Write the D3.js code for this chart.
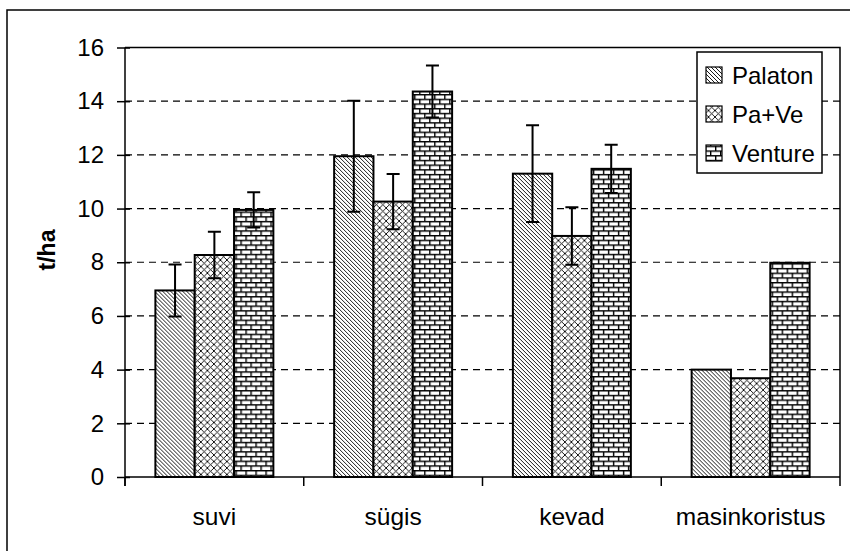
<!DOCTYPE html>
<html>
<head>
<meta charset="utf-8">
<script src="https://cdn.jsdelivr.net/npm/d3@7"></script>
<style>
  html, body { margin: 0; padding: 0; background: #fff; }
  svg { display: block; font-family: "Liberation Sans", Arial, sans-serif; }
</style>
</head>
<body>
<svg id="chart" width="850" height="551"></svg>
<script>
// ---- data ----
const categories = ["suvi", "sügis", "kevad", "masinkoristus"];
const seriesNames = ["Palaton", "Pa+Ve", "Venture"];
const palaton = [6.95, 11.95, 11.3, 4.0];
const paVe = [8.27, 10.26, 8.98, 3.68];
const venture = [9.95, 14.36, 11.48, 7.98];
const palatonErr = [0.97, 2.07, 1.8, null];
const paVeErr = [0.87, 1.03, 1.07, null];
const ventureErr = [0.66, 0.97, 0.9, null];
const yTicks = [0, 2, 4, 6, 8, 10, 12, 14, 16];

const seriesValues = [palaton, paVe, venture];
const seriesErrors = [palatonErr, paVeErr, ventureErr];
const patternIds = ["pPalaton", "pPaVe", "pVenture"];

(function () {
const svg = d3.select("#chart");
const FONT = 24;

// ---- patterns ----
const defs = svg.append("defs");
function makePattern(id, w, h, d, sw) {
  const p = defs.append("pattern").attr("id", id)
    .attr("patternUnits", "userSpaceOnUse").attr("width", w).attr("height", h);
  p.append("rect").attr("width", w).attr("height", h).attr("fill", "#fff");
  p.append("path").attr("d", d).attr("stroke", "#000").attr("stroke-width", sw).attr("fill", "none");
}
makePattern("pPalaton", 4, 4, "M0,0L4,4M-1,3L1,5M3,-1L5,1", 0.9);
makePattern("pPaVe", 6.5, 6.5, "M0,0L6.5,6.5M6.5,0L0,6.5", 0.9);
makePattern("pVenture", 10, 9.4, "M0,0.7H10M0,5.4H10M0.7,0.7V5.4M5.7,5.4V9.4", 1.4);

// ---- frame ----
svg.append("rect").attr("x", 7).attr("y", 10).attr("width", 860).attr("height", 560)
  .attr("fill", "none").attr("stroke", "#000").attr("stroke-width", 1.5);

// ---- scales ----
const pLeft = 125, pRight = 840, pTop = 47.5, pBottom = 477;
const x = d3.scaleBand().domain(categories).range([pLeft, pRight]).paddingInner(0.34).paddingOuter(0.17);
const x1 = d3.scaleBand().domain(seriesNames).range([0, x.bandwidth()]).padding(0);
const y = d3.scaleLinear().domain([0, 16]).range([pBottom, pTop]);

// ---- gridlines ----
svg.append("g").selectAll("line").data(yTicks.filter(t => t > 0 && t < 16)).join("line")
  .attr("x1", pLeft).attr("x2", pRight)
  .attr("y1", d => y(d)).attr("y2", d => y(d))
  .attr("stroke", "#000").attr("stroke-width", 1.2).attr("stroke-dasharray", "7,5");

// plot border top/right
svg.append("path").attr("d", `M${pLeft},${y(16)}H${pRight}V${pBottom}`)
  .attr("fill", "none").attr("stroke", "#000").attr("stroke-width", 1.5);

// ---- bars ----
const groups = svg.append("g").selectAll("g").data(categories).join("g")
  .attr("transform", d => `translate(${x(d)},0)`);

groups.each(function(cat, ci) {
  const g = d3.select(this);
  seriesNames.forEach((s, si) => {
    const v = seriesValues[si][ci];
    g.append("rect")
      .attr("x", x1(s)).attr("width", x1.bandwidth())
      .attr("y", y(v)).attr("height", y(0) - y(v))
      .attr("fill", `url(#${patternIds[si]})`)
      .attr("stroke", "#000").attr("stroke-width", 2);
  });
});
groups.each(function(cat, ci) {
  const g = d3.select(this);
  seriesNames.forEach((s, si) => {
    const v = seriesValues[si][ci];
    const e = seriesErrors[si][ci];
    if (e == null) return;
    const cx = x1(s) + x1.bandwidth() / 2;
    const hi = y(v + e), lo = y(v - e);
    g.append("path")
      .attr("d", `M${cx},${hi}V${lo}M${cx - 6.5},${hi}H${cx + 6.5}M${cx - 6.5},${lo}H${cx + 6.5}`)
      .attr("stroke", "#000").attr("stroke-width", 2).attr("fill", "none");
  });
});

// ---- y axis ----
const yAxis = svg.append("g").attr("transform", `translate(${pLeft},0)`)
  .call(d3.axisLeft(y).tickValues(yTicks).tickSize(8).tickFormat(d3.format("d")));
yAxis.select(".domain").attr("d", `M0,${y(16)}V${pBottom + 9}`).attr("stroke", "#000").attr("stroke-width", 1.5);
yAxis.selectAll(".tick line").attr("x1", 5).attr("x2", -8).attr("stroke", "#000").attr("stroke-width", 1.5);
yAxis.selectAll(".tick text").attr("x", -21).attr("fill", "#000")
  .style("font-size", FONT + "px").style("font-family", "Liberation Sans, Arial, sans-serif");

// ---- x axis ----
const xAxis = svg.append("g").attr("transform", `translate(0,${pBottom})`)
  .call(d3.axisBottom(x).tickSize(0));
xAxis.select(".domain").attr("d", `M${pLeft},0H${pRight}`).attr("stroke", "#000").attr("stroke-width", 1.5);
xAxis.selectAll(".tick text").attr("y", 48).attr("dy", null).attr("fill", "#000")
  .style("font-size", "24.5px").style("font-family", "Liberation Sans, Arial, sans-serif");
const bounds = categories.map(c => x(c) + x.bandwidth() / 2 - x.step() / 2).concat([pRight]);
xAxis.append("g").selectAll("line").data(bounds).join("line")
  .attr("x1", d => d).attr("x2", d => d).attr("y1", 0).attr("y2", 9)
  .attr("stroke", "#000").attr("stroke-width", 1.5);

// ---- y title ----
svg.append("text").attr("transform", "translate(55,250) rotate(-90)")
  .attr("text-anchor", "middle").attr("font-weight", "bold")
  .attr("font-size", 23).attr("fill", "#000").text("t/ha");

// ---- legend ----
const lg = svg.append("g");
lg.append("rect").attr("x", 697).attr("y", 52).attr("width", 125).attr("height", 121)
  .attr("fill", "#fff").attr("stroke", "#000").attr("stroke-width", 1.5);
const legendY = d3.scalePoint().domain(seriesNames).range([75, 153]);
seriesNames.forEach((s, si) => {
  lg.append("rect").attr("x", 706).attr("y", legendY(s) - 8).attr("width", 16).attr("height", 16)
    .attr("fill", `url(#${patternIds[si]})`).attr("stroke", "#000").attr("stroke-width", 1.2);
  lg.append("text").attr("x", 732).attr("y", legendY(s)).attr("dy", "0.36em")
    .attr("font-size", FONT).attr("fill", "#000").text(s);
});
})();
</script>
</body>
</html>
